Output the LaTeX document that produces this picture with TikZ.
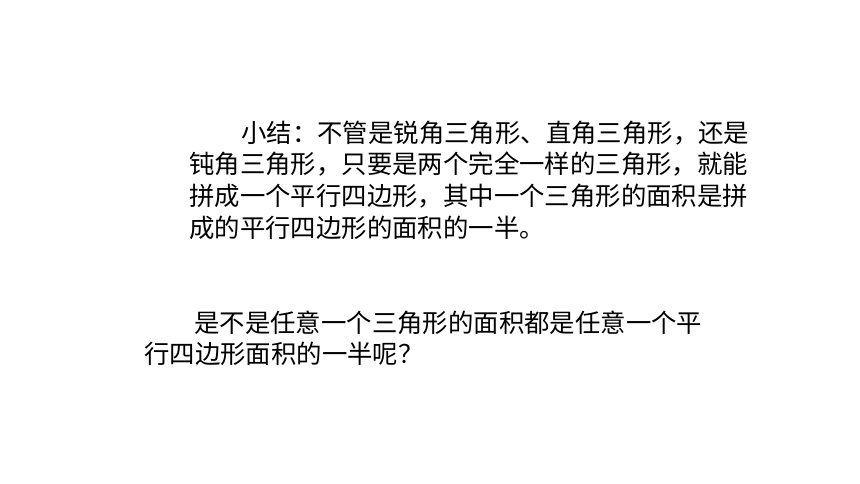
\documentclass[tikz,border=0pt]{standalone}
\usepackage{fontspec}
\newfontfamily\cjk{Noto Sans CJK SC}
\tikzset{
  line/.style={anchor=west,inner sep=0pt,font=\cjk\fontsize{25.4}{30}\selectfont}
}
\begin{document}
\begin{tikzpicture}[x=1pt,y=-1pt]

      \useasboundingbox (0,0) rectangle (860,484);

      % summary
      \node[line] (s1) at (241,133) {小结：不管是锐角三角形、直角三角形，还是};
      \node[line] (s2) at (189,164) {钝角三角形，只要是两个完全一样的三角形，就能};
      \node[line] (s3) at (189,196) {拼成一个平行四边形，其中一个三角形的面积是拼};
      \node[line] (s4) at (189,228) {成的平行四边形的面积的一半。};

      % question
      \node[line] (q1) at (194,323) {是不是任意一个三角形的面积都是任意一个平};
      \node[line] (q2) at (144,354) {行四边形面积的一半呢？};

    \end{tikzpicture}
\end{document}
